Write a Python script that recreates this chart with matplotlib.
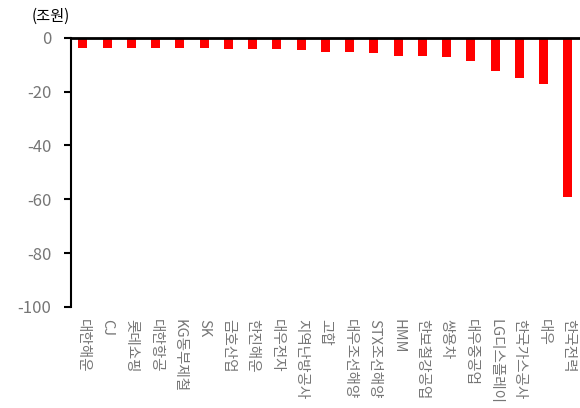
import matplotlib
matplotlib.use("Agg")
import matplotlib.pyplot as plt

plt.rcParams['font.family'] = ['Noto Sans CJK KR', 'DejaVu Sans']

companies = ["대한해운", "CJ", "롯데쇼핑", "대한항공", "KG동부제철", "SK", "금호산업",
             "한진해운", "대우전자", "지역난방공사", "고합", "대우조선해양", "STX조선해양",
             "HMM", "한보철강공업", "쌍용차", "대우중공업", "LG디스플레이", "한국가스공사",
             "대우", "한국전력"]
values = [-3.6, -3.6, -3.6, -3.6, -3.6, -3.6, -4.2, -4.2, -4.2, -4.5, -5.1, -5.1,
          -5.7, -6.6, -6.6, -7.2, -8.6, -12.3, -15.0, -17.2, -59.1]
yticks = [0, -20, -40, -60, -80, -100]

fig = plt.figure(figsize=(5.8, 4.08), dpi=100)
ax = fig.add_axes([0.122, 0.248, 0.878, 0.659])

x = range(len(companies))
ax.bar(x, values, width=0.37, color="#ff0000")

ax.set_ylim(-100, 0)
ax.set_xlim(-0.5, len(companies) - 0.5)
ax.set_yticks(yticks)
ax.set_yticklabels([str(v) for v in yticks], fontsize=12, color="#767676")
ax.tick_params(axis="y", direction="out", length=5, width=1.5, color="black", pad=9)

ax.set_xticks(list(x))
ax.set_xticklabels(companies, rotation=-90, fontsize=10.5, color="#767676", va="top", ha="center")
ax.tick_params(axis="x", length=0, pad=9)

for s in ["right", "bottom"]:
    ax.spines[s].set_visible(False)
ax.spines["top"].set_linewidth(2)
ax.spines["left"].set_linewidth(1.5)

fig.text(0.055, 0.96, "(조원)", fontsize=11, color="black", ha="left", va="center")

fig.savefig("out.png", dpi=100)
